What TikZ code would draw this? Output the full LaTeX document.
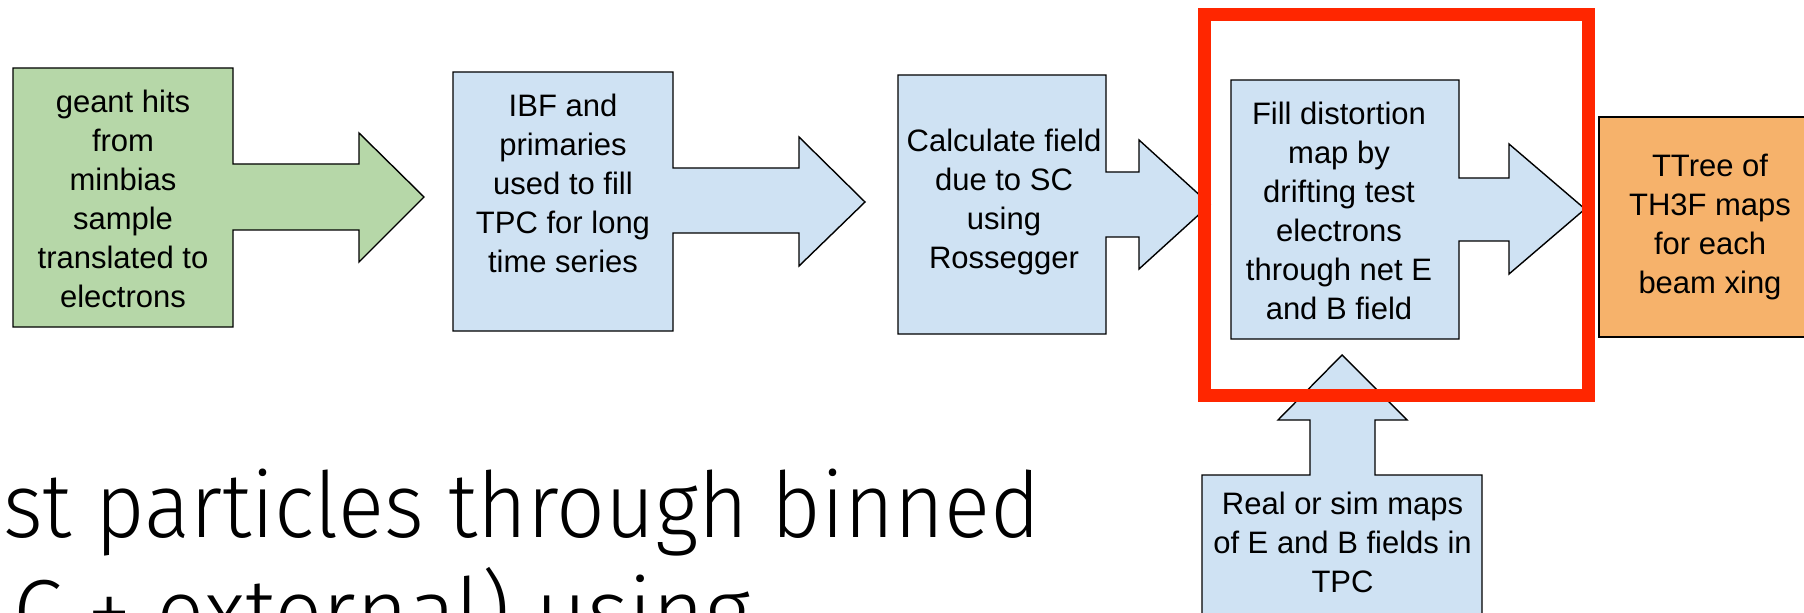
\documentclass[tikz,border=0pt]{standalone}
\usepackage{fontspec}
\setmainfont{Liberation Sans}
\newfontfamily\bigfont{Fira Sans Light}
\definecolor{gfill}{HTML}{B6D7A8}
\definecolor{bfill}{HTML}{CFE2F3}
\definecolor{ofill}{HTML}{F6B26B}
\definecolor{hred}{RGB}{255,38,0}
\tikzset{
  blockshape/.style={draw=black, line width=1.4bp, line join=miter},
  boxtext/.style={font=\fontsize{31bp}{39bp}\selectfont, align=center, inner sep=0pt, text=black},
  bigtext/.style={font=\bigfont\fontsize{91bp}{106bp}\selectfont, inner sep=0pt, anchor=base west},
  redframe/.style={draw=hred, line width=13bp}
}
\begin{document}
\begin{tikzpicture}[x=1bp,y=-1bp]
\useasboundingbox (0,0) rectangle (1804,613);
\clip (0,0) rectangle (1804,613);
\fill[white] (0,0) rectangle (1804,613);
% green box with arrow
\filldraw[blockshape, fill=gfill] (13,68) -- (233,68) -- (233,164) -- (359,164) -- (359,133) -- (424,197) -- (359,262) -- (359,230) -- (233,230) -- (233,327) -- (13,327) -- cycle;
% IBF box with arrow
\filldraw[blockshape, fill=bfill] (453,72) -- (673,72) -- (673,168) -- (799,168) -- (799,137) -- (865,202) -- (799,266) -- (799,233) -- (673,233) -- (673,331) -- (453,331) -- cycle;
% Calc box with arrow
\filldraw[blockshape, fill=bfill] (898,75) -- (1106,75) -- (1106,172) -- (1139,172) -- (1139,140) -- (1210,204.5) -- (1139,269) -- (1139,237) -- (1106,237) -- (1106,334) -- (898,334) -- cycle;
% Fill box with arrow
\filldraw[blockshape, fill=bfill] (1231,80) -- (1459,80) -- (1459,178) -- (1509,178) -- (1509,144) -- (1585,209) -- (1509,274) -- (1509,241) -- (1459,241) -- (1459,339) -- (1231,339) -- cycle;
% TTree box
\filldraw[blockshape, fill=ofill] (1599,117) rectangle (1812,337);
% Real box with up arrow
\filldraw[blockshape, fill=bfill] (1202,625) -- (1202,475) -- (1310,475) -- (1310,420) -- (1278,420) -- (1342,355) -- (1407,420) -- (1375,420) -- (1375,475) -- (1482,475) -- (1482,625) -- cycle;
% texts
\node[boxtext] (geant) at (123,202.2) {\strut geant hits\\from\\minbias\\sample\\translated to\\electrons\strut};
\node[boxtext] (ibf) at (563,186.4) {\strut IBF and\\primaries\\used to fill\\TPC for long\\time series\strut};
\node[boxtext] (calc) at (1004,202.2) {\strut Calculate field\\due to SC\\using\\Rossegger\strut};
\node[boxtext] (fill) at (1339,214.4) {\strut Fill distortion\\map by\\drifting test\\electrons\\through net E\\and B field\strut};
\node[boxtext] (ttree) at (1710,227.2) {\strut TTree of\\TH3F maps\\for each\\beam xing\strut};
\node[boxtext] (real) at (1342.5,545.5) {\strut Real or sim maps\\of E and B fields in\\TPC\strut};
% big slide text
\node[bigtext, xscale=0.94] (line1) at (3,537) {st particles through binned};
\node[bigtext, xscale=0.985] (line2) at (13,643) {C + external) using};
% red highlight frame
\draw[redframe] (1204.5,14.5) rectangle (1588,395);
\end{tikzpicture}
\end{document}
